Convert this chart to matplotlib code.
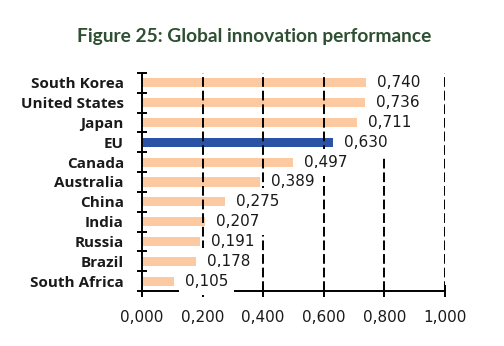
import numpy as np
import matplotlib
matplotlib.use("Agg")
import matplotlib.pyplot as plt
from matplotlib.ticker import FixedLocator, FuncFormatter

countries = ["South Korea", "United States", "Japan", "EU", "Canada", "Australia",
             "China", "India", "Russia", "Brazil", "South Africa"]
scores = [0.740, 0.736, 0.711, 0.630, 0.497, 0.389, 0.275, 0.207, 0.191, 0.178, 0.105]
highlight = "EU"
x_ticks = [0.0, 0.2, 0.4, 0.6, 0.8, 1.0]

peach = "#fdc9a0"
blue = "#2a52a5"
colors = [blue if c == highlight else peach for c in countries]


def comma(v, pos=None):
    return f"{v:.3f}".replace(".", ",")


fig = plt.figure(figsize=(5.04, 3.46), dpi=100)
ax = fig.add_axes([0.2817, 0.159, 0.601, 0.630])

ypos = np.arange(len(countries))
ax.barh(ypos, scores, height=0.46, color=colors, zorder=1)

ax.set_xlim(0, 1.0)
ax.set_ylim(len(countries) - 0.5, -0.5)

# dashed vertical grid
for xv in x_ticks[1:]:
    ax.axvline(xv, color="black", lw=1.4, ls=(0, (5, 2)), zorder=2)

# value labels with white boxes that hide grid/axis
for y, v in zip(ypos, scores):
    ax.annotate(comma(v), (v, y), xytext=(8, 0), textcoords="offset points",
                ha="left", va="center", fontsize=11, family="DejaVu Sans",
                color="#1a1a1a", zorder=5,
                bbox=dict(boxstyle="square,pad=0.4", fc="white", ec="none"))

for s in ["top", "right"]:
    ax.spines[s].set_visible(False)
for s in ["left", "bottom"]:
    ax.spines[s].set_linewidth(1.4)
    ax.spines[s].set_zorder(3)

ax.xaxis.set_major_locator(FixedLocator(x_ticks))
ax.xaxis.set_major_formatter(FuncFormatter(comma))
ax.tick_params(axis="x", direction="inout", length=8, width=1.4, pad=9.5,
               labelsize=11, labelcolor="#1a1a1a")

ax.set_yticks(ypos)
ax.set_yticklabels(countries, fontsize=11, fontweight="bold", family="Open Sans",
                   color="#1a1a1a")
ax.yaxis.set_minor_locator(FixedLocator(np.arange(-0.5, len(countries), 1.0)))
ax.tick_params(axis="y", which="major", length=0, pad=13)
ax.tick_params(axis="y", which="minor", direction="inout", length=7, width=1.4)

fig.text(0.505, 0.895, "Figure 25: Global innovation performance", ha="center",
         va="center", fontsize=13.8, fontweight="bold", family="Lato",
         color="#2e4f31")

fig.savefig("out.png", dpi=100)
